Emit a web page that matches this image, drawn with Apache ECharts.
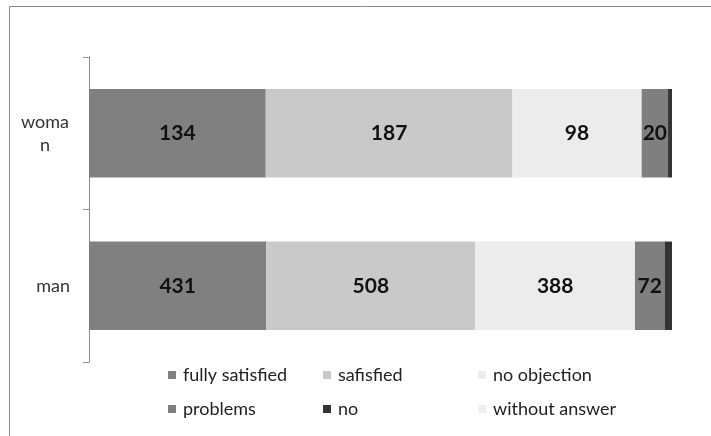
<!DOCTYPE html>
<html>
<head>
<meta charset="utf-8">
<script src="https://cdn.jsdelivr.net/npm/echarts@6/dist/echarts.min.js"></script>
<style>
  html, body { margin: 0; padding: 0; background: #fff; }
  #chart { width: 711px; height: 436px; }
</style>
</head>
<body>
<div id="chart"></div>
<script>
// Survey answers by gender, shown as 100% stacked bars
const categories = ['woma\nn', 'man'];
const seriesNames = ['fully satisfied', 'safisfied', 'no objection', 'problems', 'no', 'without answer'];
const fullySatisfied = [134, 431];
const satisfied = [187, 508];
const noObjection = [98, 388];
const problems = [20, 72];
const no = [3, 18];
const withoutAnswer = [0, 0];

const values = [fullySatisfied, satisfied, noObjection, problems, no, withoutAnswer];
const colors = ['#808080', '#c9c9c9', '#ececec', '#7f7f7f', '#333333', '#efefef'];
const showLabel = [true, true, true, true, false, false];

const totals = categories.map((_, i) => values.reduce((s, arr) => s + arr[i], 0));

const series = seriesNames.map((name, k) => ({
  name,
  type: 'bar',
  stack: 'total',
  barCategoryGap: '42%',
  itemStyle: { color: colors[k] },
  label: {
    show: showLabel[k],
    position: 'inside',
    formatter: p => String(values[k][p.dataIndex]),
    color: '#111',
    fontFamily: 'Lato',
    fontWeight: 'bold',
    fontSize: 21
  },
  data: values[k].map((v, i) => v / totals[i] * 100)
}));

// one legend block per item, laid out in a 3x2 grid
const legendCols = [168, 323, 478];
const legendRows = [366, 400];
const legends = seriesNames.map((name, k) => ({
  data: [name],
  left: legendCols[k % 3],
  top: legendRows[Math.floor(k / 3)],
  itemWidth: 8,
  itemHeight: 8,
  icon: 'rect',
  itemGap: 0,
  padding: 0,
  textStyle: { fontFamily: 'Lato', fontSize: 18, color: '#222', padding: [0, 0, 0, 2] }
}));

const chart = echarts.init(document.getElementById('chart'));
chart.setOption({
  animation: false,
  backgroundColor: '#fff',
  graphic: [{
    type: 'rect',
    shape: { x: 9.5, y: 6.5, width: 760, height: 500 },
    style: { fill: 'none', stroke: '#8a8a8a', lineWidth: 1 },
    silent: true
  }],
  grid: { left: 89, right: 39, top: 57, bottom: 74 },
  legend: legends,
  xAxis: {
    type: 'value', min: 0, max: 100, show: false
  },
  yAxis: {
    type: 'category',
    inverse: true,
    data: categories,
    axisLine: { show: true, lineStyle: { color: '#8c8c8c' } },
    axisTick: { show: true, length: 6, lineStyle: { color: '#8c8c8c' } },
    axisLabel: {
      margin: 19,
      fontFamily: 'Lato',
      fontSize: 18,
      color: '#333',
      lineHeight: 23,
      formatter: v => v.includes('\n') ? v.split('\n').map(s => '{w|' + s + '}').join('\n') : v,
      rich: { w: { width: 50, align: 'center', fontFamily: 'Lato', fontSize: 18, color: '#333', lineHeight: 23 } }
    }
  },
  series
});
</script>
</body>
</html>
